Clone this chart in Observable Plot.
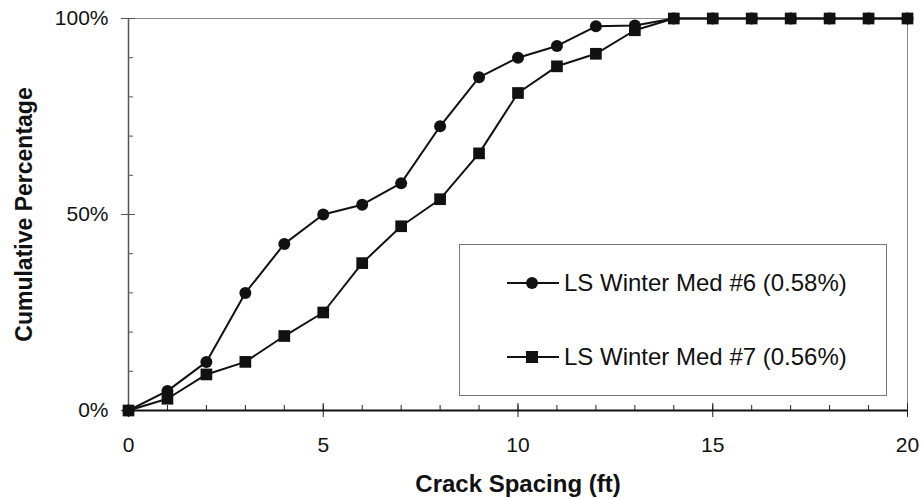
<!DOCTYPE html>
<html>
<head>
<meta charset="utf-8">
<script src="https://cdn.jsdelivr.net/npm/d3@7"></script>
<script src="https://cdn.jsdelivr.net/npm/@observablehq/plot@0.6"></script>
<style>
  html, body { margin: 0; padding: 0; background: #fff; }
  #wrap { position: relative; width: 921px; height: 499px; font-family: "Liberation Sans", Arial, sans-serif; }
  #legend { position: absolute; left: 459px; top: 244px; width: 428px; height: 152px; border: 1px solid #777; background: #fff; box-sizing: border-box; }
  .row { position: absolute; left: 47px; display: flex; align-items: center; font-size: 24px; color: #111; }
  .row svg { margin-right: 5px; }
</style>
</head>
<body>
<div id="wrap"></div>
<script>
// ---- data ----
const spacing = [0,1,2,3,4,5,6,7,8,9,10,11,12,13,14,15,16,17,18,19,20];
const med6 = [0,5,12.4,30,42.5,50,52.5,58,72.5,85,90,93,98,98.2,100,100,100,100,100,100,100];
const med7 = [0,3,9.2,12.4,19,25,37.6,47,53.9,65.6,81,87.8,91,97,100,100,100,100,100,100,100];
const seriesNames = ["LS Winter Med #6 (0.58%)", "LS Winter Med #7 (0.56%)"];
const xMajorTicks = [0,5,10,15,20];
const yMajorTicks = [0,50,100];
const yMinorTicks = [0,10,20,30,40,50,60,70,80,90,100];
const xTitle = "Crack Spacing (ft)";
const yTitle = "Cumulative Percentage";

const d6 = spacing.map((x, i) => ({x, y: med6[i]}));
const d7 = spacing.map((x, i) => ({x, y: med7[i]}));

const chart = Plot.plot({
  width: 921,
  height: 499,
  marginLeft: 128,
  marginRight: 14,
  marginTop: 18,
  marginBottom: 89,
  x: {domain: [0, 20]},
  y: {domain: [0, 100]},
  style: {fontFamily: "'Liberation Sans', Arial, sans-serif", fontSize: "21px", color: "#111", background: "white"},
  marks: [
    Plot.frame({stroke: "#888", strokeWidth: 1}),
    // minor ticks (inward)
    Plot.axisX(spacing, {tickSize: -5, text: null, label: null, stroke: "#222"}),
    Plot.axisY(yMinorTicks, {tickSize: -5, text: null, label: null, stroke: "#555"}),
    // major ticks crossing the axis
    Plot.axisX(xMajorTicks, {tickSize: -7, text: null, label: null, stroke: "#222"}),
    Plot.axisY(yMajorTicks, {tickSize: -7, text: null, label: null, stroke: "#555"}),
    Plot.axisX(xMajorTicks, {tickSize: 7, tickPadding: 20, label: null, stroke: "#222", fontSize: 21}),
    Plot.axisY(yMajorTicks, {tickSize: 7, tickPadding: 13, label: null, tickFormat: d => d + "%", stroke: "#555", fontSize: 21}),
    Plot.ruleX([0], {stroke: "#555", strokeWidth: 1.5}),
    Plot.ruleY([0], {stroke: "#111", strokeWidth: 2}),
    Plot.text([xTitle], {frameAnchor: "bottom", dy: 74, fontWeight: "bold", fontSize: 24, lineAnchor: "middle", textAnchor: "middle", fill: "#111"}),
    Plot.text([yTitle], {frameAnchor: "left", dx: -104, rotate: -90, fontWeight: "bold", fontSize: 23, lineAnchor: "middle", textAnchor: "middle", fill: "#111"}),
    Plot.line(d6, {x: "x", y: "y", stroke: "#111", strokeWidth: 2}),
    Plot.dot(d6, {x: "x", y: "y", symbol: "circle", r: 6, fill: "#111", stroke: "none"}),
    Plot.line(d7, {x: "x", y: "y", stroke: "#111", strokeWidth: 2}),
    Plot.dot(d7, {x: "x", y: "y", symbol: "square", r: 6.6, fill: "#111", stroke: "none"})
  ]
});

const wrap = document.getElementById("wrap");
wrap.appendChild(chart);

// legend
const legend = document.createElement("div");
legend.id = "legend";
wrap.appendChild(legend);
const rowsTop = [38, 112];
seriesNames.forEach((name, i) => {
  const row = document.createElement("div");
  row.className = "row";
  row.style.top = (rowsTop[i] - 15) + "px";
  const svg = d3.create("svg").attr("width", 52).attr("height", 30);
  svg.append("line").attr("x1", 0).attr("x2", 52).attr("y1", 15).attr("y2", 15).attr("stroke", "#111").attr("stroke-width", 2);
  if (i === 0) svg.append("circle").attr("cx", 25).attr("cy", 15).attr("r", 6).attr("fill", "#111");
  else svg.append("rect").attr("x", 19).attr("y", 9).attr("width", 12).attr("height", 12).attr("fill", "#111");
  row.appendChild(svg.node());
  const span = document.createElement("span");
  span.textContent = name;
  row.appendChild(span);
  legend.appendChild(row);
});
</script>
</body>
</html>
